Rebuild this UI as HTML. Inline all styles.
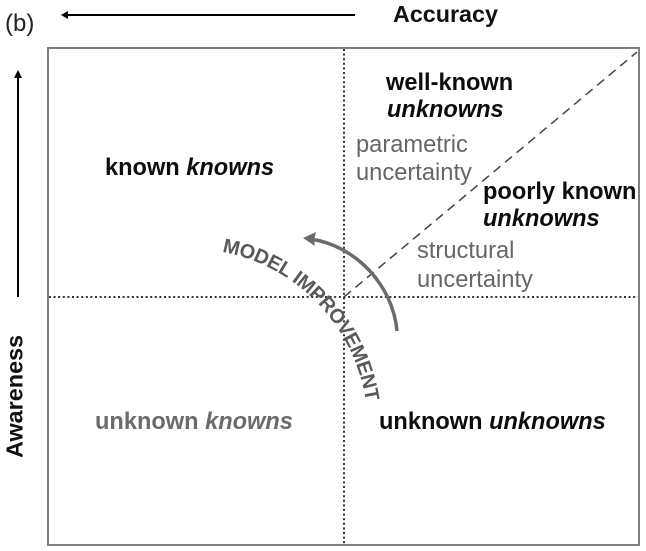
<!DOCTYPE html>
<html><head><meta charset="utf-8"><style>
html,body{margin:0;padding:0;background:#fff}
svg{display:block;font-family:"Liberation Sans",sans-serif}
.b{font-weight:700;font-size:23.6px;fill:#0d0d0d}
.g{font-size:23.7px;fill:#666}
</style></head><body>
<svg width="646" height="551" viewBox="0 0 646 551" xmlns="http://www.w3.org/2000/svg">
<rect width="646" height="551" fill="#fff"/>
<rect x="48" y="48" width="591" height="497" fill="none" stroke="#7f7f7f" stroke-width="2"/>
<line x1="344" y1="49" x2="344" y2="544" stroke="#333" stroke-width="2" stroke-dasharray="2 2.6"/>
<line x1="49" y1="297" x2="638" y2="297" stroke="#333" stroke-width="2" stroke-dasharray="2 2.6"/>
<line x1="344" y1="297" x2="637" y2="52" stroke="#444" stroke-width="1.5" stroke-dasharray="9 6"/>
<line x1="66" y1="15" x2="355" y2="15" stroke="#000" stroke-width="2"/>
<polygon points="61,15 68,11 68,19" fill="#000"/>
<line x1="18" y1="76" x2="18" y2="297" stroke="#000" stroke-width="2"/>
<polygon points="18,70 14,78 22,78" fill="#000"/>
<path d="M397,331 C393,285 355,245 310,239" fill="none" stroke="#6b6b6b" stroke-width="3.5"/>
<polygon points="303,238 316,232 314,240 315,246" fill="#6b6b6b"/>
<text x="5" y="31" font-size="24" fill="#222">(b)</text>
<text x="393" y="22" font-size="23.3" font-weight="700" fill="#111">Accuracy</text>
<text transform="translate(22.5,458) rotate(-90)" font-size="23.4" font-weight="700" fill="#111">Awareness</text>
<text x="105" y="175" class="b">known <tspan font-style="italic">knowns</tspan></text>
<text x="386" y="90" class="b">well-known</text>
<text x="387" y="117" class="b" font-style="italic">unknowns</text>
<text x="356" y="152" class="g">parametric</text>
<text x="356" y="180" class="g">uncertainty</text>
<text x="483" y="199" class="b">poorly known</text>
<text x="483" y="226" class="b" font-style="italic">unknowns</text>
<text x="417" y="258" class="g">structural</text>
<text x="417" y="287" class="g">uncertainty</text>
<text x="95" y="429" class="b" style="fill:#6b6b6b">unknown <tspan font-style="italic">knowns</tspan></text>
<text x="379" y="429" class="b">unknown <tspan font-style="italic">unknowns</tspan></text>
<defs><path id="arc" d="M222,252 C292,264 354,322 366,402"/></defs>
<text font-size="20" font-weight="700" fill="#595959" letter-spacing="-0.3"><textPath href="#arc">MODEL IMPROVEMENT</textPath></text>
</svg>
</body></html>
